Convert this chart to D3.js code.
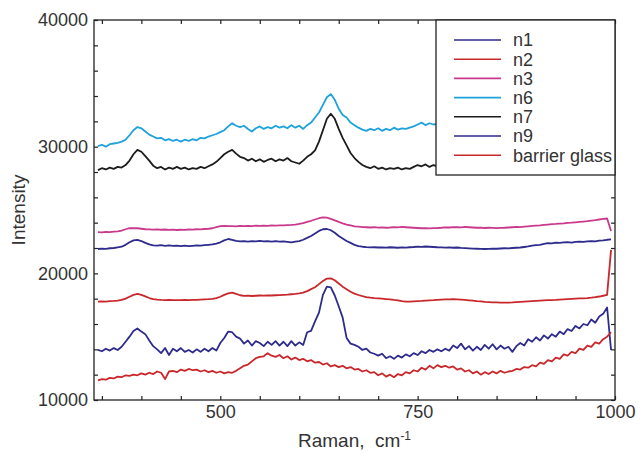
<!DOCTYPE html>
<html><head><meta charset="utf-8">
<script src="https://cdn.jsdelivr.net/npm/d3@7"></script>
<style>html,body{margin:0;padding:0;background:#fff;} svg{display:block;font-family:"Liberation Sans",Arial,Helvetica,sans-serif;}</style>
</head><body><svg id="chart" width="643" height="458"></svg>
<script>
const ramanShift = [
345,350,355,360,365,370,375,380,385,390,
395,400,405,410,415,420,425,430,435,440,
445,450,455,460,465,470,475,480,485,490,
495,500,505,510,515,520,525,530,535,540,
545,550,555,560,565,570,575,580,585,590,
595,600,605,610,615,620,625,630,635,640,
645,650,655,660,665,670,675,680,685,690,
695,700,705,710,715,720,725,730,735,740,
745,750,755,760,765,770,775,780,785,790,
795,800,805,810,815,820,825,830,835,840,
845,850,855,860,865,870,875,880,885,890,
895,900,905,910,915,920,925,930,935,940,
945,950,955,960,965,970,975,980,985,990,
995];

const n1 = [
21920,21950,21930,21980,22000,22050,22100,22250,22450,22600,
22640,22550,22400,22280,22200,22180,22220,22170,22200,22160,
22190,22150,22180,22140,22170,22200,22180,22220,22250,22280,
22350,22450,22600,22710,22650,22560,22520,22550,22500,22540,
22520,22560,22530,22550,22510,22540,22500,22530,22490,22450,
22500,22550,22650,22800,22950,23150,23350,23480,23500,23400,
23200,22950,22750,22550,22400,22250,22150,22100,22070,22050,
22060,22040,22050,22030,22060,22040,22020,22050,22030,22060,
22080,22110,22090,22120,22100,22080,22060,22050,22030,22050,
22020,22040,22010,21990,21970,21950,21940,21930,21920,21930,
21950,21940,21960,21980,21970,22000,22020,22040,22080,22120,
22180,22220,22250,22320,22380,22360,22420,22400,22440,22460,
22430,22480,22500,22480,22530,22550,22520,22580,22600,22650,
22680];

const n2 = [
17760,17780,17770,17800,17820,17850,17900,18000,18150,18300,
18370,18300,18180,18050,17960,17920,17900,17890,17900,17880,
17890,17880,17900,17890,17910,17900,17920,17940,17960,17990,
18050,18150,18300,18420,18470,18380,18270,18220,18240,18210,
18230,18250,18240,18260,18250,18270,18280,18300,18320,18350,
18380,18420,18480,18600,18750,18900,19150,19400,19580,19600,
19450,19200,18950,18750,18550,18400,18290,18200,18130,18080,
18050,18030,18000,17970,17940,17900,17870,17800,17770,17760,
17780,17800,17820,17850,17870,17880,17900,17920,17940,17950,
17960,17950,17930,17900,17870,17840,17800,17780,17750,17730,
17710,17700,17690,17680,17690,17700,17720,17740,17760,17780,
17800,17820,17840,17860,17880,17890,17900,17920,17940,17960,
17980,18000,18020,18030,18050,18080,18120,18170,18230,18300,
21850];

const n3 = [
23250,23230,23270,23260,23300,23320,23380,23480,23560,23570,
23560,23520,23480,23470,23450,23470,23440,23460,23430,23450,
23420,23440,23430,23460,23450,23480,23470,23500,23520,23560,
23650,23720,23740,23720,23730,23710,23740,23720,23750,23730,
23760,23740,23770,23750,23780,23760,23790,23780,23800,23820,
23850,23900,23970,24060,24150,24250,24350,24420,24400,24300,
24180,24060,23950,23850,23780,23700,23680,23650,23640,23620,
23640,23610,23630,23600,23620,23650,23630,23660,23640,23620,
23600,23580,23560,23570,23550,23570,23580,23600,23630,23620,
23650,23640,23630,23660,23640,23620,23600,23610,23580,23600,
23590,23570,23590,23600,23620,23640,23660,23650,23680,23710,
23740,23770,23790,23820,23850,23880,23900,23930,23950,23980,
24000,24030,24060,24090,24120,24160,24200,24250,24300,24330,
23350];

const n6 = [
30050,30150,30000,30200,30250,30300,30400,30550,30900,31300,
31550,31450,31200,30950,30800,30650,30700,30500,30600,30450,
30550,30400,30550,30450,30600,30500,30700,30650,30800,30900,
31000,31150,31300,31600,31850,31650,31550,31650,31400,31200,
31450,31600,31400,31550,31450,31650,31500,31600,31450,31700,
31500,31650,31400,31700,31900,32300,32700,33300,33900,34150,
33700,33000,32500,32300,31900,31700,31500,31350,31250,31400,
31300,31450,31250,31400,31300,31500,31350,31450,31400,31500,
31600,31750,31900,31700,31850,31750,31800,31700,31850,31750,
31800,31700,31850,31750,31800,31700,31850,31750,31800,31700,
31800,31750,31850,31700,31800,31750,31850,31800,31900,31800,
31850,31900,31800,31950,31850,31900,31950,31850,32000,31900,
31950,32000,31900,32050,31950,32000,32100,32000,32100,32050,
32000];

const n7 = [
28150,28300,28200,28350,28250,28400,28350,28550,28900,29400,
29750,29600,29250,28900,28500,28300,28400,28200,28350,28250,
28400,28250,28350,28200,28300,28250,28400,28300,28450,28600,
28800,29100,29400,29600,29750,29450,29200,29100,28900,29050,
28850,29000,28800,28950,29050,28850,29000,28900,29100,28850,
28750,28650,28900,29200,29400,29700,30400,31300,32200,32600,
32200,31400,30700,30100,29500,29100,28800,28550,28400,28300,
28450,28250,28350,28200,28300,28250,28350,28200,28300,28250,
28400,28550,28450,28600,28400,28550,28450,28500,28400,28500,
28450,28350,28500,28400,28550,28450,28350,28500,28400,28450,
28550,28400,28500,28350,28450,28550,28400,28500,28450,28550,
28500,28400,28550,28450,28500,28400,28550,28450,28500,28600,
28500,28550,28450,28600,28500,28550,28650,28550,28600,28650,
28600];

const n9 = [
13950,13850,14050,13900,14100,13950,14200,14600,15000,15450,
15650,15400,15200,14700,14250,14000,13700,14100,13550,14050,
13850,14100,13800,13950,13750,14000,13800,14050,13850,14100,
13900,14500,14900,15400,15350,15000,14850,14450,14700,14300,
14650,14500,14250,14600,14350,14650,14300,14600,14250,14650,
14300,14550,14350,15350,15450,16200,16900,18300,18950,18900,
18250,17400,16500,14900,14450,14350,14200,13950,14050,13750,
13650,13500,13650,13300,13450,13250,13500,13350,13600,13450,
13700,13550,13850,13700,13950,13800,14000,13850,14050,13900,
14300,14100,14450,14000,14250,13900,14200,13950,14350,14050,
14400,14000,14300,14050,14200,13800,14250,14500,14300,14800,
14600,14950,14700,15100,14850,15200,15000,15400,15200,15600,
15450,15850,15650,16000,15900,16350,16100,16600,16800,17300,
13950];

const barrierGlass = [
11550,11650,11600,11750,11700,11850,11800,11950,11900,12000,
11950,12100,12000,12150,12050,12250,12150,11650,12250,12300,
12200,12400,12300,12450,12350,12400,12250,12350,12200,12300,
12150,12250,12100,12200,12150,12300,12500,12700,12800,13050,
13300,13400,13450,13700,13500,13400,13550,13300,13450,13200,
13350,13150,13250,13050,13150,12950,13000,12800,12900,12650,
12750,12600,12700,12500,12600,12400,12450,12250,12350,12150,
12200,11950,12100,11850,12000,11800,12050,11950,12200,12100,
12350,12250,12550,12400,12700,12500,12750,12600,12700,12550,
12650,12400,12500,12250,12350,12100,12250,12000,12200,12050,
12250,12100,12300,12150,12250,12300,12450,12400,12600,12550,
12750,12650,12950,12850,13150,13050,13350,13250,13600,13500,
13800,13700,14050,13950,14300,14200,14550,14450,14800,15000,
15350];

const seriesNames = ["n1","n2","n3","n6","n7","n9","barrier glass"];
const seriesValues = [n1, n2, n3, n6, n7, n9, barrierGlass];
const seriesColors = ["#2d2b8c","#c8282b","#c93a8d","#1ea2dc","#1c1c1c","#2d2b8c","#c8282b"];

const xTicks = [350,400,450,500,550,600,650,700,750,800,850,900,950,1000];
const xTickLabels = [500,750,1000];
const yTicks = [10000,12000,14000,16000,18000,20000,22000,24000,26000,28000,30000,32000,34000,36000,38000,40000];
const yTickLabels = [10000,20000,30000,40000];
const xTitle = "Raman,\u00a0\u00a0cm";
const xTitleSup = "-1";
const yTitle = "Intensity";

const L = 94, R = 615, T = 20, B = 400;
const svg = d3.select("#chart");
const x = d3.scaleLinear().domain([340, 1000]).range([L, R]);
const y = d3.scaleLinear().domain([10000, 40000]).range([B, T]);

const line = d3.line().x(d => x(d[0])).y(d => y(d[1]));
const g = svg.append("g");
seriesValues.forEach((vals, i) => {
  g.append("path")
    .datum(ramanShift.map((r, k) => [r, vals[k]]))
    .attr("d", line)
    .attr("fill", "none")
    .attr("stroke", seriesColors[i])
    .attr("stroke-width", 1.8)
    .attr("stroke-linejoin", "round");
});

const axisColor = "#222";
const textColor = "#333";
function styleAxis(sel) {
  sel.select(".domain").remove();
  sel.selectAll(".tick line").attr("stroke", axisColor).attr("stroke-width", 1.2);
  sel.selectAll(".tick text").attr("fill", textColor).style("font-size", "18px");
}
svg.append("g").attr("transform", `translate(0,${B})`)
  .call(d3.axisBottom(x).tickValues(xTicks).tickSizeInner(-4).tickSizeOuter(0).tickPadding(5)
    .tickFormat(d => xTickLabels.includes(d) ? d : ""))
  .call(styleAxis);
svg.append("g").attr("transform", `translate(0,${T})`)
  .call(d3.axisTop(x).tickValues(xTicks).tickSizeInner(-4).tickSizeOuter(0).tickFormat(""))
  .call(styleAxis);
svg.append("g").attr("transform", `translate(${L},0)`)
  .call(d3.axisLeft(y).tickValues(yTicks).tickSizeInner(-4).tickSizeOuter(0).tickPadding(6)
    .tickFormat(d => yTickLabels.includes(d) ? d : ""))
  .call(styleAxis);
svg.append("g").attr("transform", `translate(${R},0)`)
  .call(d3.axisRight(y).tickValues(yTicks).tickSizeInner(-4).tickSizeOuter(0).tickFormat(""))
  .call(styleAxis);

svg.append("rect").attr("x", L).attr("y", T).attr("width", R - L).attr("height", B - T)
  .attr("fill", "none").attr("stroke", axisColor).attr("stroke-width", 1.3);

// axis titles
const xt = svg.append("text").attr("x", (L + R) / 2).attr("y", 447).attr("text-anchor", "middle")
  .attr("fill", textColor).style("font-size", "19px");
xt.append("tspan").text(xTitle);
xt.append("tspan").attr("dy", -7).style("font-size", "12px").text(xTitleSup);

svg.append("text").attr("transform", `translate(25,${(T + B) / 2}) rotate(-90)`)
  .attr("text-anchor", "middle").attr("fill", textColor).style("font-size", "19px").text(yTitle);

// legend
const lg = svg.append("g");
lg.append("rect").attr("x", 436).attr("y", T).attr("width", R - 436).attr("height", 155)
  .attr("fill", "#fff").attr("stroke", axisColor).attr("stroke-width", 1.3);
seriesNames.forEach((name, i) => {
  const yy = 40 + i * 19.2;
  lg.append("line").attr("x1", 454).attr("x2", 501).attr("y1", yy).attr("y2", yy)
    .attr("stroke", seriesColors[i]).attr("stroke-width", 1.6);
  lg.append("text").attr("x", 513).attr("y", yy).attr("dy", "0.35em")
    .attr("fill", textColor).style("font-size", "18px").text(name);
});
</script></body></html>
